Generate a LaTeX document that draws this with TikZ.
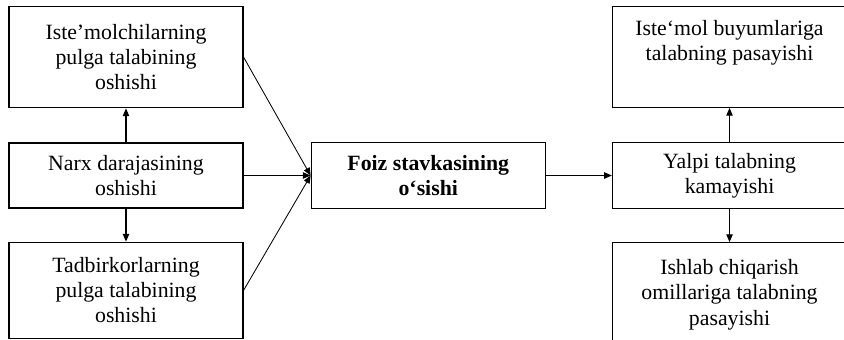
\documentclass[tikz,border=0pt]{standalone}
\usepackage{fontspec}
\setmainfont{Liberation Serif}
\usetikzlibrary{arrows.meta,positioning}

\begin{document}
\begin{tikzpicture}[node distance=0.85cm and 1.65cm, >={Triangle[length=5.5pt,width=4.5pt]}]
    \tikzset{blok/.style={draw,line width=0.9pt,minimum width=5.85cm,align=center,
      inner sep=2pt,font=\fontsize{15.5}{17.8}\selectfont}}
    \useasboundingbox (0,0) rectangle (21.1,-8.475);
    % chap ustun
    \node[blok,minimum height=1.625cm] (narx) at (3.15,-4.3875) {Narx darajasining\\oshishi};
    \node[blok,minimum height=2.525cm,above=of narx] (istemolchi)
      {Iste’molchilarning\\pulga talabining\\oshishi};
    \node[blok,minimum height=2.4cm,below=0.825cm of narx] (tadbirkor)
      {Tadbirkorlarning\\pulga talabining\\oshishi};
    % markaz
    \node[blok,minimum height=1.65cm,right=1.675cm of narx] (foiz)
      {\textbf{Foiz stavkasining}\\\textbf{o‘sishi}};
    % o'ng ustun
    \node[blok,minimum height=1.65cm,right=of foiz] (yalpi) {Yalpi talabning\\kamayishi};
    \node[blok,minimum height=2.525cm,above=of yalpi] (buyum)
      {Iste‘mol buyumlariga\\talabning pasayishi\\\strut};
    \node[blok,minimum height=2.6cm,below=0.825cm of yalpi] (omil)
      {Ishlab chiqarish\\omillariga talabning\\pasayishi};

    \draw[->,line width=0.8pt] (narx) -- (istemolchi);
    \draw[->,line width=0.8pt] (narx) -- (tadbirkor);
    \draw[->,line width=0.6pt] (istemolchi.east) -- (foiz.west);
    \draw[->,line width=0.8pt] (narx) -- (foiz);
    \draw[->,line width=0.6pt] (tadbirkor.east) -- (foiz.west);
    \draw[->,line width=0.8pt] (foiz) -- (yalpi);
    \draw[->,line width=0.8pt] (yalpi) -- (buyum);
    \draw[->,line width=0.8pt] (yalpi) -- (omil);
\end{tikzpicture}
\end{document}
